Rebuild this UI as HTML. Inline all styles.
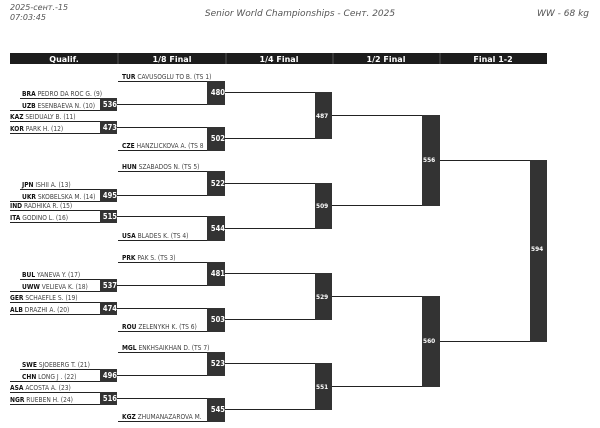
<!DOCTYPE html>
<html><head><meta charset="utf-8"><style>
html,body{margin:0;padding:0;background:#fff;width:600px;height:428px;overflow:hidden}
svg{display:block}
.h{font-family:"DejaVu Sans","Liberation Sans",sans-serif;font-style:italic;fill:#555}
.c{font-family:"DejaVu Sans","Liberation Sans",sans-serif;font-weight:bold;font-size:8px;fill:#fff}
.n{font-family:"DejaVu Sans Condensed","DejaVu Sans","Liberation Sans Narrow",sans-serif;font-size:6.6px;fill:#444}
.n tspan{font-weight:bold;fill:#111}
.b{font-family:"DejaVu Sans Condensed","DejaVu Sans",sans-serif;font-weight:bold;fill:#fff}
line{stroke:#222;stroke-width:1}
rect.x{fill:#333}
</style></head><body>
<svg width="600" height="428" viewBox="0 0 600 428" xmlns="http://www.w3.org/2000/svg">
<text class="h" x="10" y="10" font-size="8">2025-сент.-15</text>
<text class="h" x="10" y="20" font-size="8">07:03:45</text>
<text class="h" x="300" y="16" font-size="9" text-anchor="middle">Senior World Championships - Сент. 2025</text>
<text class="h" x="589" y="16" font-size="9" text-anchor="end">WW - 68 kg</text>

<rect x="10" y="53" width="537" height="11" fill="#1c1c1c"/>
<g><line x1="118" y1="53" x2="118" y2="64" style="stroke:#555"/><line x1="226" y1="53" x2="226" y2="64" style="stroke:#555"/><line x1="333" y1="53" x2="333" y2="64" style="stroke:#555"/><line x1="440" y1="53" x2="440" y2="64" style="stroke:#555"/></g>
<text class="c" x="64" y="62" text-anchor="middle">Qualif.</text>
<text class="c" x="172" y="62" text-anchor="middle">1/8 Final</text>
<text class="c" x="279" y="62" text-anchor="middle">1/4 Final</text>
<text class="c" x="386" y="62" text-anchor="middle">1/2 Final</text>
<text class="c" x="493" y="62" text-anchor="middle">Final 1-2</text>

<line x1="20" y1="98.5" x2="100" y2="98.5"/><line x1="10" y1="110.5" x2="100" y2="110.5"/>
<line x1="10" y1="121.5" x2="100" y2="121.5"/><line x1="10" y1="133.5" x2="100" y2="133.5"/>
<line x1="20" y1="189.5" x2="100" y2="189.5"/><line x1="10" y1="201.5" x2="100" y2="201.5"/>
<line x1="10" y1="210.5" x2="100" y2="210.5"/><line x1="10" y1="222.5" x2="100" y2="222.5"/>
<line x1="20" y1="279.5" x2="100" y2="279.5"/><line x1="10" y1="291.5" x2="100" y2="291.5"/>
<line x1="10" y1="302.5" x2="100" y2="302.5"/><line x1="10" y1="314.5" x2="100" y2="314.5"/>
<line x1="20" y1="369.5" x2="100" y2="369.5"/><line x1="10" y1="381.5" x2="100" y2="381.5"/>
<line x1="10" y1="392.5" x2="100" y2="392.5"/><line x1="10" y1="404.5" x2="100" y2="404.5"/>

<line x1="118" y1="81.5" x2="207" y2="81.5"/><line x1="117" y1="104.5" x2="207" y2="104.5"/>
<line x1="117" y1="127.5" x2="207" y2="127.5"/><line x1="118" y1="150.5" x2="207" y2="150.5"/>
<line x1="118" y1="171.5" x2="207" y2="171.5"/><line x1="117" y1="195.5" x2="207" y2="195.5"/>
<line x1="117" y1="216.5" x2="207" y2="216.5"/><line x1="118" y1="240.5" x2="207" y2="240.5"/>
<line x1="118" y1="262.5" x2="207" y2="262.5"/><line x1="117" y1="285.5" x2="207" y2="285.5"/>
<line x1="117" y1="308.5" x2="207" y2="308.5"/><line x1="118" y1="331.5" x2="207" y2="331.5"/>
<line x1="118" y1="352.5" x2="207" y2="352.5"/><line x1="117" y1="375.5" x2="207" y2="375.5"/>
<line x1="117" y1="398.5" x2="207" y2="398.5"/><line x1="118" y1="421.5" x2="207" y2="421.5"/>

<line x1="225" y1="92.5" x2="315" y2="92.5"/><line x1="225" y1="138.5" x2="315" y2="138.5"/>
<line x1="225" y1="183.5" x2="315" y2="183.5"/><line x1="225" y1="228.5" x2="315" y2="228.5"/>
<line x1="225" y1="273.5" x2="315" y2="273.5"/><line x1="225" y1="319.5" x2="315" y2="319.5"/>
<line x1="225" y1="363.5" x2="315" y2="363.5"/><line x1="225" y1="409.5" x2="315" y2="409.5"/>
<line x1="332" y1="115.5" x2="422" y2="115.5"/><line x1="332" y1="205.5" x2="422" y2="205.5"/>
<line x1="332" y1="296.5" x2="422" y2="296.5"/><line x1="332" y1="386.5" x2="422" y2="386.5"/>
<line x1="440" y1="160.5" x2="530" y2="160.5"/><line x1="440" y1="341.5" x2="530" y2="341.5"/>

<g>
<rect class="x" x="100" y="98" width="17" height="13"/><rect class="x" x="100" y="121" width="17" height="13"/>
<rect class="x" x="100" y="189" width="17" height="13"/><rect class="x" x="100" y="210" width="17" height="13"/>
<rect class="x" x="100" y="279" width="17" height="13"/><rect class="x" x="100" y="302" width="17" height="13"/>
<rect class="x" x="100" y="369" width="17" height="13"/><rect class="x" x="100" y="392" width="17" height="13"/>
<rect class="x" x="207" y="81" width="18" height="24"/><rect class="x" x="207" y="127" width="18" height="24"/>
<rect class="x" x="207" y="171" width="18" height="25"/><rect class="x" x="207" y="216" width="18" height="25"/>
<rect class="x" x="207" y="262" width="18" height="24"/><rect class="x" x="207" y="308" width="18" height="24"/>
<rect class="x" x="207" y="352" width="18" height="24"/><rect class="x" x="207" y="398" width="18" height="24"/>
<rect class="x" x="315" y="92" width="17" height="47"/><rect class="x" x="315" y="183" width="17" height="46"/>
<rect class="x" x="315" y="273" width="17" height="47"/><rect class="x" x="315" y="363" width="17" height="47"/>
<rect class="x" x="422" y="115" width="18" height="91"/><rect class="x" x="422" y="296" width="18" height="91"/>
<rect class="x" x="530" y="160" width="17" height="182"/>
</g>

<g class="b" font-size="7.5" text-anchor="end">
<text x="117" y="107">536</text><text x="117" y="130">473</text>
<text x="117" y="198">495</text><text x="117" y="219">515</text>
<text x="117" y="288">537</text><text x="117" y="311">474</text>
<text x="117" y="378">496</text><text x="117" y="401">516</text>
<text x="225" y="95">480</text><text x="225" y="141">502</text>
<text x="225" y="186">522</text><text x="225" y="231">544</text>
<text x="225" y="276">481</text><text x="225" y="322">503</text>
<text x="225" y="366">523</text><text x="225" y="412">545</text>
</g>
<g class="b" font-size="6.5">
<text x="316" y="118">487</text><text x="316" y="208">509</text>
<text x="316" y="299">529</text><text x="316" y="389">551</text>
<text x="423" y="162">556</text><text x="423" y="343">560</text>
<text x="531" y="251">594</text>
</g>

<g class="n">
<text x="22" y="96"><tspan>BRA</tspan> PEDRO DA ROC G. (9)</text>
<text x="22" y="108"><tspan>UZB</tspan> ESENBAEVA N. (10)</text>
<text x="10" y="119"><tspan>KAZ</tspan> SEIDUALY B. (11)</text>
<text x="10" y="131"><tspan>KOR</tspan> PARK H. (12)</text>
<text x="22" y="187"><tspan>JPN</tspan> ISHII A. (13)</text>
<text x="22" y="199"><tspan>UKR</tspan> SKOBELSKA M. (14)</text>
<text x="10" y="208"><tspan>IND</tspan> RADHIKA R. (15)</text>
<text x="10" y="220"><tspan>ITA</tspan> GODINO L. (16)</text>
<text x="22" y="277"><tspan>BUL</tspan> YANEVA Y. (17)</text>
<text x="22" y="289"><tspan>UWW</tspan> VELIEVA K. (18)</text>
<text x="10" y="300"><tspan>GER</tspan> SCHAEFLE S. (19)</text>
<text x="10" y="312"><tspan>ALB</tspan> DRAZHI A. (20)</text>
<text x="22" y="367"><tspan>SWE</tspan> SJOEBERG T. (21)</text>
<text x="22" y="379"><tspan>CHN</tspan> LONG J . (22)</text>
<text x="10" y="390"><tspan>ASA</tspan> ACOSTA A. (23)</text>
<text x="10" y="402"><tspan>NGR</tspan> RUEBEN H. (24)</text>
<text x="122" y="79"><tspan>TUR</tspan> CAVUSOGLU TO B. (TS 1)</text>
<text x="122" y="148"><tspan>CZE</tspan> HANZLICKOVA A. (TS 8</text>
<text x="122" y="169"><tspan>HUN</tspan> SZABADOS N. (TS 5)</text>
<text x="122" y="238"><tspan>USA</tspan> BLADES K. (TS 4)</text>
<text x="122" y="260"><tspan>PRK</tspan> PAK S. (TS 3)</text>
<text x="122" y="329"><tspan>ROU</tspan> ZELENYKH K. (TS 6)</text>
<text x="122" y="350"><tspan>MGL</tspan> ENKHSAIKHAN D. (TS 7)</text>
<text x="122" y="419"><tspan>KGZ</tspan> ZHUMANAZAROVA M.</text>
</g>
</svg>
</body></html>
